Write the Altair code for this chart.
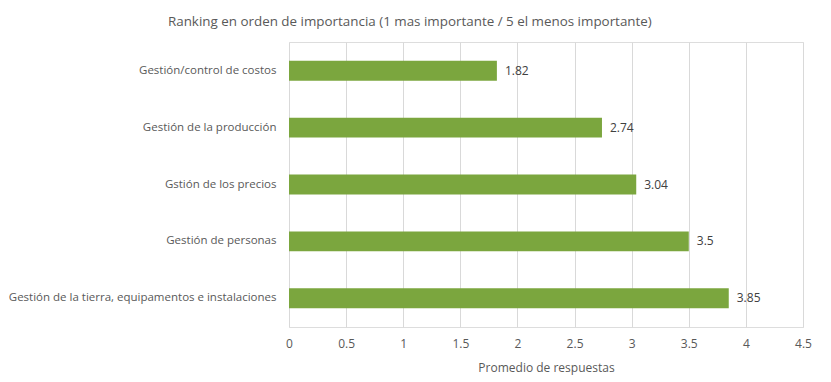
import altair as alt
import pandas as pd

categories = [
    "Gestión/control de costos",
    "Gestión de la producción",
    "Gstión de los precios",
    "Gestión de personas",
    "Gestión de la tierra, equipamentos e instalaciones",
]
values = [1.82, 2.74, 3.04, 3.5, 3.85]
labels = ["1.82", "2.74", "3.04", "3.5", "3.85"]
x_ticks = [0, 0.5, 1, 1.5, 2, 2.5, 3, 3.5, 4, 4.5]

df = pd.DataFrame({"cat": categories, "val": values, "lab": labels})

FONT = "Open Sans"
GRAY = "#595959"

y_enc = alt.Y(
    "cat:N",
    sort=categories,
    title=None,
    scale=alt.Scale(paddingInner=0.65, paddingOuter=0.33),
    axis=alt.Axis(
        domain=False, ticks=False, labelFont=FONT, labelFontSize=11.5,
        labelColor=GRAY, labelPadding=13, labelLimit=400,
    ),
)
x_enc = alt.X(
    "val:Q",
    title="Promedio de respuestas",
    scale=alt.Scale(domain=[0, 4.5], nice=False),
    axis=alt.Axis(
        values=x_ticks, format="~g", domain=False, ticks=False, labelFlush=False,
        grid=True, gridColor="#d9d9d9", gridWidth=1,
        labelFont=FONT, labelFontSize=12, labelColor=GRAY, labelPadding=11,
        titleFont=FONT, titleFontSize=12, titleColor=GRAY, titlePadding=13,
        titleFontWeight="normal",
    ),
)

bars = alt.Chart(df).mark_bar(color="#7ba63e").encode(x=x_enc, y=y_enc)
text = alt.Chart(df).mark_text(
    align="left", baseline="middle", dx=8, font=FONT, fontSize=12, color="#404040"
).encode(x="val:Q", y=alt.Y("cat:N", sort=categories), text="lab:N")

chart = (
    alt.layer(bars, text)
    .properties(
        width=514,
        height=285,
        title=alt.TitleParams(
            "Ranking en orden de importancia (1 mas importante / 5 el menos importante)",
            font=FONT, fontSize=13.4, color=GRAY, fontWeight="normal",
            anchor="middle", frame="bounds", offset=14,
        ),
        padding={"left": 0, "top": 6, "right": 5, "bottom": 4},
    )
    .configure_view(stroke=None)
    .configure(background="white")
)

chart.save("out.html", embed_options={"renderer": "svg", "actions": False})
